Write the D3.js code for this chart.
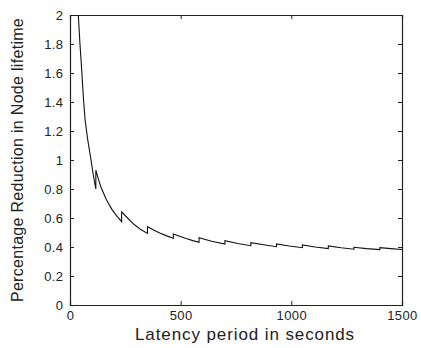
<!DOCTYPE html>
<html><head><meta charset="utf-8">
<script src="https://cdn.jsdelivr.net/npm/d3@7"></script>
<style>body{margin:0;background:#fff}svg{display:block}text{font-family:"Liberation Sans",Arial,sans-serif;fill:#222}</style>
</head><body>
<svg id="c" width="421" height="348"></svg>
<script>
// Data (latency in seconds, reduction)
const latency = [30, 37.5, 45, 53, 60, 68, 80, 95, 105, 116.7,
  116.7, 130, 140, 165, 190, 210, 233.3,
  233.3, 260, 290, 320, 350,
  350, 380, 408, 440, 467,
  467, 495, 525, 555, 583,
  583, 640, 700,
  700, 758, 817,
  817, 875, 933,
  933, 990, 1050,
  1050, 1108, 1167,
  1167, 1225, 1283,
  1283, 1340, 1400,
  1400, 1450, 1500];
const reduction = [2.35, 2.0, 1.8, 1.62, 1.44, 1.28, 1.14, 1.0, 0.9, 0.80,
  0.93, 0.86, 0.812, 0.724, 0.658, 0.617, 0.575,
  0.643, 0.6, 0.555, 0.52, 0.494,
  0.54, 0.515, 0.495, 0.475, 0.46,
  0.49, 0.474, 0.458, 0.444, 0.432,
  0.464, 0.44, 0.421,
  0.443, 0.424, 0.409,
  0.43, 0.415, 0.402,
  0.421, 0.407, 0.395,
  0.414, 0.4, 0.389,
  0.407, 0.395, 0.385,
  0.398, 0.389, 0.382,
  0.396, 0.389, 0.383];
const xTicks = [0, 500, 1000, 1500];
const yTicks = [0, 0.2, 0.4, 0.6, 0.8, 1, 1.2, 1.4, 1.6, 1.8, 2];
const xLabel = "Latency period in seconds";
const yLabel = "Percentage Reduction in Node lifetime";

const svg = d3.select("#c");
const L = 70, R = 402, T = 15, B = 305;
const x = d3.scaleLinear().domain([0, 1500]).range([L, R]);
const y = d3.scaleLinear().domain([0, 2]).range([B, T]);

svg.append("clipPath").attr("id", "clip").append("rect")
  .attr("x", L).attr("y", T).attr("width", R - L).attr("height", B - T);

const tk = 4;
const fmt = d => String(d);
// bottom axis
const gx = svg.append("g").attr("transform", `translate(0,${B})`)
  .call(d3.axisBottom(x).tickValues(xTicks).tickSize(-tk).tickPadding(5.8).tickFormat(fmt));
// top axis (ticks only)
const gxt = svg.append("g").attr("transform", `translate(0,${T})`)
  .call(d3.axisTop(x).tickValues(xTicks).tickSize(-tk).tickFormat(""));
// left axis
const gy = svg.append("g").attr("transform", `translate(${L},0)`)
  .call(d3.axisLeft(y).tickValues(yTicks).tickSize(-tk).tickPadding(6.5).tickFormat(fmt));
// right axis
const gyr = svg.append("g").attr("transform", `translate(${R},0)`)
  .call(d3.axisRight(y).tickValues(yTicks).tickSize(-tk).tickFormat(""));

[gx, gxt, gy, gyr].forEach(g => {
  g.attr("font-family", null);
  g.select(".domain").attr("stroke", "#222").attr("stroke-width", 1.2);
  g.selectAll(".tick line").attr("stroke", "#222");
  g.selectAll("text").style("font-size", "13px").style("letter-spacing", "0.4px").attr("fill", "#222");
});

svg.append("path")
  .datum(latency.map((d, i) => [d, reduction[i]]))
  .attr("clip-path", "url(#clip)")
  .attr("fill", "none").attr("stroke", "#111").attr("stroke-width", 1.1)
  .attr("d", d3.line().x(d => x(d[0])).y(d => y(d[1])));

svg.append("text").attr("x", 245).attr("y", 339.5)
  .attr("text-anchor", "middle").style("font-size", "17px").style("letter-spacing", "0.9px").text(xLabel);
svg.append("text").attr("transform", `translate(23,160) rotate(-90)`)
  .attr("text-anchor", "middle").style("font-size", "16px").style("letter-spacing", "0.3px").text(yLabel);
</script>
</body></html>
